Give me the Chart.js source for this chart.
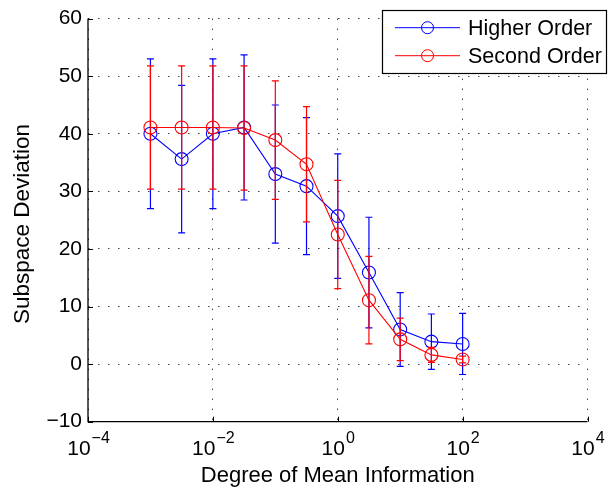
<!DOCTYPE html>
<html>
<head>
<meta charset="utf-8">
<script src="https://cdn.jsdelivr.net/npm/chart.js@4.4.1/dist/chart.umd.min.js"></script>
<style>
html,body{margin:0;padding:0;background:#fff;}
canvas{display:block;}
</style>
</head>
<body>
<canvas id="c" width="608" height="490"></canvas>
<script>
// ---- data ----
const xValues = [0.001, 0.00316, 0.01, 0.0316, 0.1, 0.316, 1, 3.16, 10, 31.6, 100];
const higherMean = [40.0, 35.6, 40.0, 41.1, 33.0, 30.9, 25.7, 15.9, 6.0, 3.9, 3.5];
const higherErr  = [13.0, 12.8, 13.0, 12.6, 12.0, 11.9, 10.8, 9.6, 6.4, 4.8, 5.3];
const secondMean = [41.1, 41.1, 41.1, 41.0, 38.9, 34.7, 22.5, 11.1, 4.3, 1.6, 0.8];
const secondErr  = [10.7, 10.7, 10.7, 10.8, 10.3, 10.0, 9.4, 7.6, 3.7, 1.3, 0.6];
const seriesNames = ['Higher Order', 'Second Order'];
const xTickExponents = [-4, -2, 0, 2, 4];
const yTickValues = [-10, 0, 10, 20, 30, 40, 50, 60];
const xTitle = 'Degree of Mean Information';
const yTitle = 'Subspace Deviation';

const FONT = '"Liberation Sans", Arial, Helvetica, sans-serif';
const BLUE = '#0000ff', RED = '#ff0000';
const errSets = [higherErr, secondErr];
const meanSets = [higherMean, secondMean];
const colors = [BLUE, RED];

const custom = {
  id: 'custom',
  afterDatasetDraw(chart, args) {
    const ctx = chart.ctx, xs = chart.scales.x, ys = chart.scales.y;
    const i = args.index;
    const mean = meanSets[i], err = errSets[i];
    ctx.save();
    ctx.strokeStyle = colors[i];
    ctx.lineWidth = 1.2;
    const cap = 3.5;
    for (let k = 0; k < xValues.length; k++) {
      const px = xs.getPixelForValue(xValues[k]);
      const pt = ys.getPixelForValue(mean[k] + err[k]);
      const pb = ys.getPixelForValue(mean[k] - err[k]);
      ctx.beginPath();
      ctx.moveTo(px, pt); ctx.lineTo(px, pb);
      ctx.moveTo(px - cap, pt); ctx.lineTo(px + cap, pt);
      ctx.moveTo(px - cap, pb); ctx.lineTo(px + cap, pb);
      ctx.stroke();
    }
    ctx.restore();
  },
  afterDraw(chart) {
    const ctx = chart.ctx, xs = chart.scales.x, ys = chart.scales.y;
    const a = chart.chartArea;
    ctx.save();
    // axis lines
    ctx.strokeStyle = '#000';
    ctx.lineWidth = 1.3;
    ctx.beginPath();
    ctx.moveTo(a.left, a.top); ctx.lineTo(a.left, a.bottom); ctx.lineTo(a.right, a.bottom);
    ctx.stroke();
    // inward ticks
    ctx.lineWidth = 1;
    ctx.beginPath();
    yTickValues.forEach(v => {
      const py = Math.round(ys.getPixelForValue(v)) + 0.5;
      ctx.moveTo(a.left, py); ctx.lineTo(a.left + 5, py);
    });
    xTickExponents.forEach(e => {
      const px = Math.round(xs.getPixelForValue(Math.pow(10, e))) + 0.5;
      ctx.moveTo(px, a.bottom); ctx.lineTo(px, a.bottom - 5);
    });
    ctx.stroke();
    // x tick labels with superscripts
    ctx.fillStyle = '#000';
    ctx.textBaseline = 'alphabetic';
    const baseFont = '21px ' + FONT, supFont = '16px ' + FONT;
    xTickExponents.forEach(e => {
      const px = xs.getPixelForValue(Math.pow(10, e));
      const sup = (e < 0 ? '\u2212' : '') + Math.abs(e);
      ctx.font = baseFont;
      const w1 = ctx.measureText('10').width;
      ctx.font = supFont;
      const w2 = ctx.measureText(sup).width;
      const x0 = px - (w1 + w2) / 2;
      ctx.font = baseFont;
      ctx.textAlign = 'left';
      ctx.fillText('10', x0, 454.5);
      ctx.font = supFont;
      ctx.fillText(sup, x0 + w1 + 1, 443);
    });
    // axis titles
    ctx.font = '22px ' + FONT;
    ctx.textAlign = 'center';
    ctx.fillText(xTitle, (a.left + a.right) / 2, 482);
    ctx.save();
    ctx.translate(28.5, 224);
    ctx.rotate(-Math.PI / 2);
    ctx.font = '22.5px ' + FONT;
    ctx.fillText(yTitle, 0, 0);
    ctx.restore();
    // legend
    const lx = 382.5, ly = 10.5, lw = 224, lh = 63;
    ctx.fillStyle = '#fff';
    ctx.fillRect(lx, ly, lw, lh);
    ctx.strokeStyle = '#000';
    ctx.lineWidth = 1.2;
    ctx.strokeRect(lx, ly, lw, lh);
    const rows = [27.7, 55.7];
    for (let i = 0; i < 2; i++) {
      const yy = rows[i];
      ctx.strokeStyle = colors[i];
      ctx.lineWidth = 1;
      ctx.beginPath();
      ctx.moveTo(395, yy); ctx.lineTo(460, yy);
      ctx.stroke();
      ctx.beginPath();
      ctx.arc(427.5, yy, 6, 0, Math.PI * 2);
      ctx.stroke();
      ctx.fillStyle = '#000';
      ctx.font = '21.5px ' + FONT;
      ctx.textAlign = 'left';
      ctx.textBaseline = 'middle';
      ctx.fillText(seriesNames[i], 468, yy + 1);
    }
    ctx.restore();
  }
};

const toPoints = (means) => xValues.map((x, k) => ({x: x, y: means[k]}));

new Chart(document.getElementById('c'), {
  type: 'line',
  data: {
    datasets: [
      {label: seriesNames[0], data: toPoints(higherMean), borderColor: BLUE, backgroundColor: 'transparent',
       borderWidth: 1.1, pointRadius: 6.5, pointBorderWidth: 1.1, pointBackgroundColor: 'transparent',
       pointBorderColor: BLUE, order: 1, tension: 0},
      {label: seriesNames[1], data: toPoints(secondMean), borderColor: RED, backgroundColor: 'transparent',
       borderWidth: 1.1, pointRadius: 6.5, pointBorderWidth: 1.1, pointBackgroundColor: 'transparent',
       pointBorderColor: RED, order: 0, tension: 0}
    ]
  },
  options: {
    responsive: false,
    animation: false,
    events: [],
    layout: {padding: {left: 0, right: 20.5, top: 18.3, bottom: 0}},
    plugins: {legend: {display: false}, tooltip: {enabled: false}},
    scales: {
      x: {
        type: 'logarithmic',
        min: 1e-4, max: 1e4,
        afterBuildTicks: (s) => { s.ticks = xTickExponents.map(e => ({value: Math.pow(10, e)})); },
        afterFit: (s) => { s.height = 68.3; },
        ticks: {display: false},
        grid: {color: '#444', lineWidth: 1, drawTicks: false},
        border: {display: false, dash: [1.5, 8.5]}
      },
      y: {
        type: 'linear',
        min: -10, max: 60,
        afterBuildTicks: (s) => { s.ticks = yTickValues.map(v => ({value: v})); },
        afterFit: (s) => { s.width = 88; },
        ticks: {
          padding: 6,
          color: '#000',
          font: {family: FONT, size: 21},
          callback: (v) => String(v).replace('-', '\u2212')
        },
        grid: {color: '#444', lineWidth: 1, drawTicks: false},
        border: {display: false, dash: [1.5, 8.5]}
      }
    }
  },
  plugins: [custom]
});
</script>
</body>
</html>
